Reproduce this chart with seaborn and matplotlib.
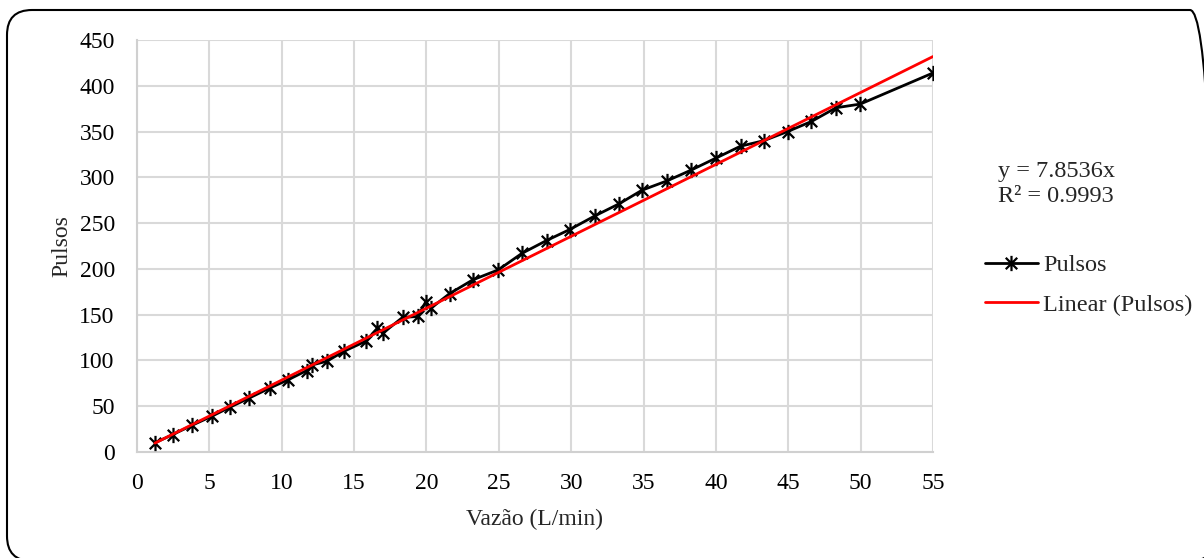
import numpy as np
import pandas as pd
import matplotlib
matplotlib.use("Agg")
import matplotlib.pyplot as plt
from matplotlib.path import Path
from matplotlib.patches import FancyBboxPatch
import seaborn as sns

vazao = [1.24, 2.46, 3.78, 5.16, 6.43, 7.76, 9.19, 10.46, 11.73, 12.07, 13.1, 14.3,
         15.8, 16.6, 17.0, 18.35, 19.4, 19.95, 20.3, 21.6, 23.2, 24.97, 26.6, 28.3,
         29.9, 31.65, 33.3, 34.9, 36.6, 38.3, 40.0, 41.7, 43.3, 44.95, 46.6, 48.3,
         49.97, 55.0]
pulsos = [10, 19, 29, 39, 49, 59, 70, 79, 89, 95, 99, 110,
          121, 135, 130, 147, 148, 164, 157, 173, 188, 199, 217, 231,
          243, 258, 271, 286, 296, 308, 321, 334, 340, 350, 361, 376,
          380, 414]
slope = 7.8536
r2 = 0.9993
xticks = list(range(0, 60, 5))
yticks = list(range(0, 500, 50))

df = pd.DataFrame({"Vazão (L/min)": vazao, "Pulsos": pulsos})
xfit = np.array([min(vazao), max(vazao)])
dfit = pd.DataFrame({"x": xfit, "y": slope * xfit})

sns.set_theme(style="white")
plt.rcParams["font.family"] = ["Liberation Serif", "DejaVu Serif"]

W, H = 1204, 558
fig = plt.figure(figsize=(W / 100, H / 100), dpi=100)
ax = fig.add_axes([137 / W, 1 - 452 / H, (933 - 137) / W, (452 - 40) / H])

star = Path([(0, -1), (0, 1), (-0.75, -0.75), (0.75, 0.75), (-0.75, 0.75), (0.75, -0.75)],
            [Path.MOVETO, Path.LINETO, Path.MOVETO, Path.LINETO, Path.MOVETO, Path.LINETO])

sns.lineplot(data=df, x="Vazão (L/min)", y="Pulsos", ax=ax, color="black", lw=2,
             marker=star, markersize=11, markeredgewidth=1.6, markeredgecolor="black",
             sort=False, label="Pulsos", zorder=3)
sns.lineplot(data=dfit, x="x", y="y", ax=ax, color="#ff0000", lw=2,
             sort=False, label="Linear (Pulsos)", zorder=4)

ax.set_xlim(0, 55)
ax.set_ylim(0, 450)
ax.set_xticks(xticks)
ax.set_yticks(yticks)
ax.tick_params(axis="both", labelsize=17, length=0, colors="black")
ax.tick_params(axis="x", pad=15)
ax.tick_params(axis="y", pad=16)
ax.grid(True, color="#d9d9d9", lw=1.5)
ax.set_axisbelow(True)
for s in ["top", "right"]:
    ax.spines[s].set_visible(False)
for s in ["left", "bottom"]:
    ax.spines[s].set_color("#d0d0d0")
    ax.spines[s].set_linewidth(1.5)
ax.set_xlabel("Vazão (L/min)", fontsize=17, labelpad=11)
ax.set_ylabel("Pulsos", fontsize=17, labelpad=5)

ax.legend(loc="upper left", bbox_to_anchor=(985 / W, 1 - 254 / H), bbox_transform=fig.transFigure,
          frameon=False, fontsize=17.5, handlelength=2.18, handletextpad=0.2,
          labelspacing=0.73, borderaxespad=0, borderpad=0)

fig.text(998 / W, 1 - 184 / H, f"y = {slope}x\nR² = {r2}", fontsize=17.5, va="center",
         ha="left", linespacing=1.2)

box = FancyBboxPatch((7 / W, -3 / H), (1215 - 7) / W, (H - 10 + 3) / H,
                     boxstyle="round,pad=0,rounding_size=%f" % (25 / W),
                     transform=fig.transFigure, fill=False, edgecolor="black", lw=1.5,
                     mutation_aspect=W / H, clip_on=False)
fig.patches.append(box)

fig.savefig("out.png", dpi=100)
